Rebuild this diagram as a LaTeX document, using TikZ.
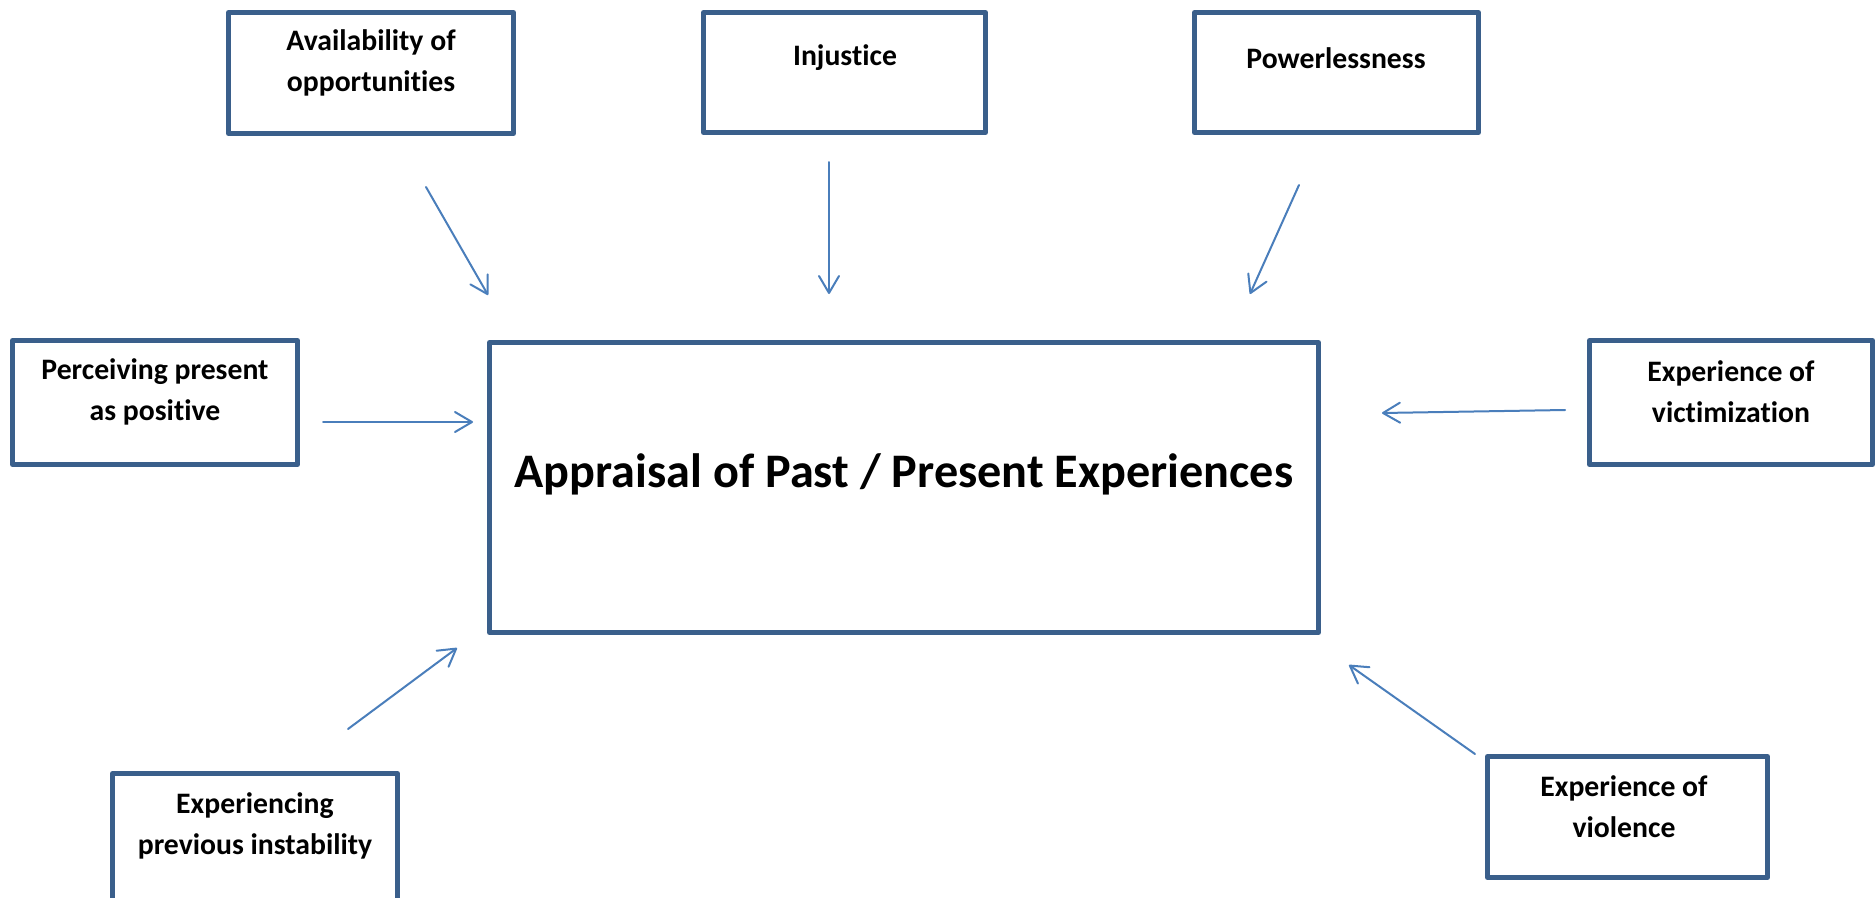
\documentclass[tikz,border=0pt]{standalone}
\usepackage{fontspec}
\setmainfont{Carlito}[Ligatures=NoCommon]
\usetikzlibrary{arrows.meta}
\definecolor{boxline}{HTML}{3A5F8B}
\definecolor{arrowline}{HTML}{4A7EBB}
\begin{document}
\begin{tikzpicture}[x=1pt,y=-1pt,
  frame/.style={draw=boxline, line width=5pt, line join=round, fill=white,
    inner sep=0pt, outer sep=0pt},
  lbl/.style={font=\fontsize{29.7}{41}\selectfont\bfseries, align=center, inner sep=0pt},
  mainlbl/.style={font=\fontsize{48.2}{58}\selectfont\bfseries, inner sep=0pt},
  link/.style={draw=arrowline, line width=2pt, line cap=round,
    -{Straight Barb[length=17pt,width=20pt,line cap=round,line join=round]}}]
\useasboundingbox (0,0) rectangle (1876,897);

% frames
\node[frame, minimum width=285pt, minimum height=121pt] (avail) at (371,73) {};
\node[frame, minimum width=282pt, minimum height=120pt] (injust) at (844.5,72.5) {};
\node[frame, minimum width=284pt, minimum height=120pt] (power) at (1336.5,72.5) {};
\node[frame, minimum width=285pt, minimum height=124pt] (perceive) at (155,402.5) {};
\node[frame, minimum width=829pt, minimum height=290pt] (core) at (904,487.5) {};
\node[frame, minimum width=283pt, minimum height=124pt] (victim) at (1731,402.5) {};
\node[frame, minimum width=285pt, minimum height=129pt] (instab) at (255,838) {};
\node[frame, minimum width=280pt, minimum height=121pt] (violence) at (1627.5,817) {};

% labels
\node[lbl] (availtxt) at (371,63) {Availability of\\opportunities};
\node[lbl] (injusttxt) at (845,58) {Injustice};
\node[lbl] (powertxt) at (1336,58) {Powerlessness};
\node[lbl] (perceivetxt) at (155,392) {Perceiving present\\as positive};
\node[lbl] (victimtxt) at (1731,392) {Experience of\\victimization};
\node[lbl] (instabtxt) at (255,826) {Experiencing\\previous instability};
\node[lbl] (violencetxt) at (1624,807) {Experience of\\violence};
\node[mainlbl] (coretxt) at (904,474) {Appraisal of Past / Present Experiences};

% arrow end points
\coordinate (availS) at (426,187);   \coordinate (availE) at (488,295);
\coordinate (injustS) at (829,162);  \coordinate (injustE) at (829,294);
\coordinate (powerS) at (1299,185);  \coordinate (powerE) at (1250,294);
\coordinate (perceiveS) at (323,422); \coordinate (perceiveE) at (473,422);
\coordinate (victimS) at (1565,410); \coordinate (victimE) at (1382,413);
\coordinate (instabS) at (348,729);  \coordinate (instabE) at (457,648);
\coordinate (violenceS) at (1475,754); \coordinate (violenceE) at (1349,665);

% arrows
\draw[link] (availS) -- (availE);
\draw[link] (injustS) -- (injustE);
\draw[link] (powerS) -- (powerE);
\draw[link] (perceiveS) -- (perceiveE);
\draw[link] (victimS) -- (victimE);
\draw[link] (instabS) -- (instabE);
\draw[link] (violenceS) -- (violenceE);
\end{tikzpicture}
\end{document}
